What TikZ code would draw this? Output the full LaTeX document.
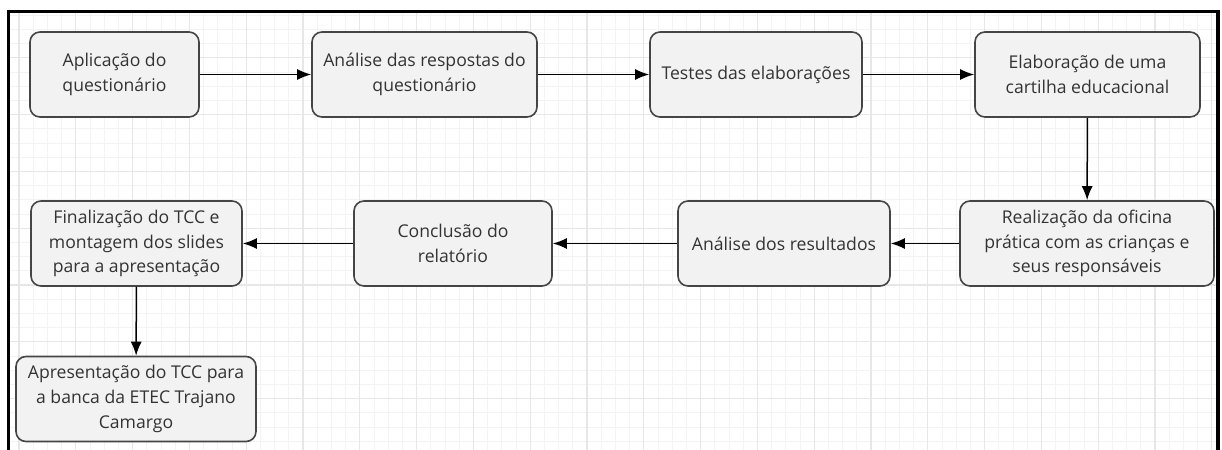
\documentclass[tikz,border=0pt]{standalone}
\usepackage{fontspec}
\setmainfont{Open Sans}
\usetikzlibrary{arrows.meta}
\definecolor{fundocaixa}{HTML}{F2F2F2}
\definecolor{bordacaixa}{HTML}{454545}
\definecolor{textocaixa}{HTML}{333333}
\definecolor{gradefina}{HTML}{F3F3F3}
\definecolor{gradeforte}{HTML}{E7E7E7}

\begin{document}
\begin{tikzpicture}[x=0.5pt, y=-0.5pt,
    etapa/.style={draw=bordacaixa, fill=fundocaixa, line width=0.8pt, rounded corners=5pt,
        minimum height=42.5pt, align=center, text=textocaixa, inner sep=1pt,
        font=\fontsize{8.8pt}{12.3pt}\selectfont},
    seta/.style={line width=0.75pt, -{Latex[length=7pt, width=5.5pt]}}]
    \useasboundingbox (0,0) rectangle (1222,450);
    % grade de fundo
    \begin{scope}
        \clip (10,13) rectangle (1216,450);
        \foreach \i in {0,...,86} {
            \draw[gradefina, line width=0.5pt] ({4.8+14.2*\i},0) -- ({4.8+14.2*\i},450);
        }
        \foreach \i in {0,...,32} {
            \draw[gradefina, line width=0.5pt] (0,{1+14.2*\i}) -- (1222,{1+14.2*\i});
        }
        \foreach \i in {0,...,21} {
            \draw[gradeforte, line width=0.6pt] ({19+56.8*\i},0) -- ({19+56.8*\i},450);
        }
        \foreach \i in {0,...,8} {
            \draw[gradeforte, line width=0.6pt] (0,{1+56.8*\i}) -- (1222,{1+56.8*\i});
        }
    \end{scope}
    \draw[line width=1.8pt] (8.5,460) -- (8.5,11.5) -- (1218,11.5) -- (1218,460);
    % etapas
    \node[etapa, minimum width=84.5pt] (aplicacao) at (114.5,74.5) {Aplicação do\\questionário};
    \node[etapa, minimum width=112.5pt] (analise) at (424.5,74.5) {Análise das respostas do\\questionário};
    \node[etapa, minimum width=106pt] (testes) at (756,74.5) {Testes das elaborações};
    \node[etapa, minimum width=112.5pt] (cartilha) at (1087.5,74.5) {Elaboração de uma\\cartilha educacional};
    \node[etapa, minimum width=127pt] (oficina) at (1087,243.5) {Realização da oficina\\prática com as crianças e\\seus responsáveis};
    \node[etapa, minimum width=106pt] (resultados) at (784,243.5) {Análise dos resultados};
    \node[etapa, minimum width=99pt] (conclusao) at (453,243.5) {Conclusão do\\relatório};
    \node[etapa, minimum width=105.5pt] (finalizacao) at (136.5,243.5) {Finalização do TCC e\\montagem dos slides\\para a apresentação};
    \node[etapa, minimum width=120pt] (apresentacao) at (136,399) {Apresentação do TCC para\\a banca da ETEC Trajano\\Camargo};
    % setas
    \draw[seta] (aplicacao) -- (analise);
    \draw[seta] (analise) -- (testes);
    \draw[seta] (testes) -- (cartilha);
    \draw[seta] (cartilha) -- (oficina);
    \draw[seta] (oficina) -- (resultados);
    \draw[seta] (resultados) -- (conclusao);
    \draw[seta] (conclusao) -- (finalizacao);
    \draw[seta] (finalizacao) -- (apresentacao);
\end{tikzpicture}
\end{document}
